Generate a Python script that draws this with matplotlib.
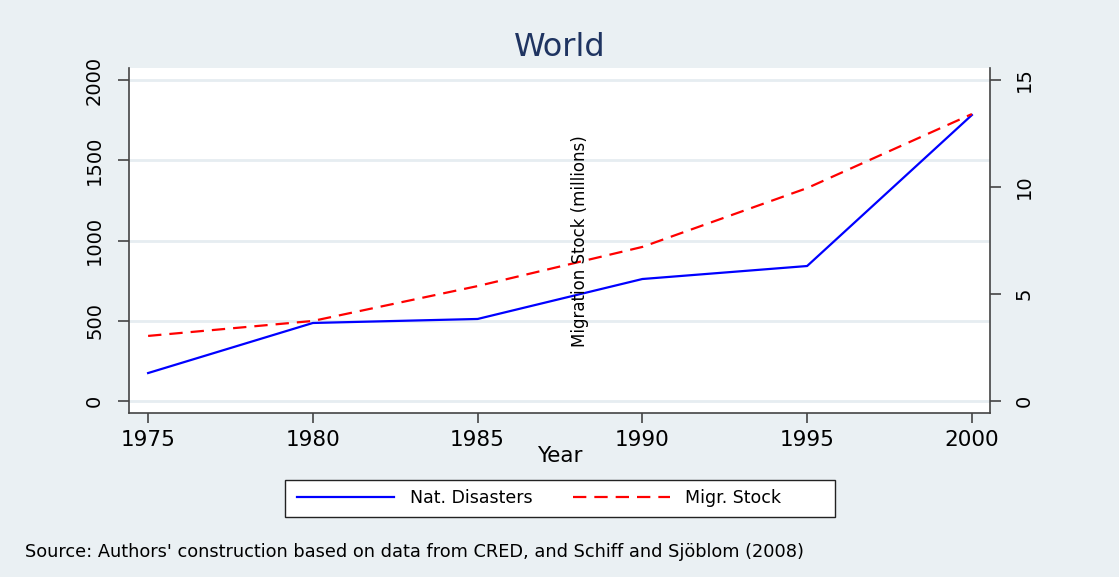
import matplotlib
matplotlib.use("Agg")
import matplotlib.pyplot as plt
from matplotlib.lines import Line2D
from matplotlib.patches import Rectangle

years = [1975, 1980, 1985, 1990, 1995, 2000]
nat_disasters = [174, 486, 511, 760, 841, 1782]
migr_stock = [3.04, 3.74, 5.37, 7.2, 9.95, 13.41]

left_ticks = [0, 500, 1000, 1500, 2000]
right_ticks = [0, 5, 10, 15]

BG = "#EAF0F3"
GRID = "#E6EDF1"
AX = "#444444"
DASH = (6, 3.6)

W, H = 1119, 577
fig = plt.figure(figsize=(W / 100, H / 100), dpi=100, facecolor=BG)

ax = fig.add_axes([129 / W, 1 - 413 / H, (990 - 129) / W, (413 - 68) / H])
ax.set_facecolor("white")
ax.plot(years, nat_disasters, color="#0000FF", lw=1.6)
ax.set_xlim(1974.42, 2000.55)
ax.set_ylim(-75, 2075)
ax.set_yticks(left_ticks)
ax.set_xticks(years)
ax.yaxis.grid(True, color=GRID, lw=2)
ax.set_axisbelow(True)
for s in ["top", "right"]:
    ax.spines[s].set_visible(False)
for s in ["left", "bottom"]:
    ax.spines[s].set_color(AX)
    ax.spines[s].set_linewidth(1.2)
ax.tick_params(axis="y", direction="out", length=8, width=1.2, color=AX,
               pad=10, labelsize=14, labelrotation=90)
ax.tick_params(axis="x", direction="out", length=7, width=1.2, color=AX,
               pad=5, labelsize=15.5)
for lab in ax.get_yticklabels():
    lab.set_va("center")
ax.set_xlabel("Year", fontsize=15.5, labelpad=-3)

ax2 = ax.twinx()
ax2.plot(years, migr_stock, color="#FF0000", lw=1.6, dashes=DASH)
ax2.set_ylim(-75 * 15 / 2000, 2075 * 15 / 2000)
ax2.set_yticks(right_ticks)
for s in ["top", "left", "bottom"]:
    ax2.spines[s].set_visible(False)
ax2.spines["right"].set_color(AX)
ax2.spines["right"].set_linewidth(1.2)
ax2.tick_params(axis="y", direction="out", length=8, width=1.2, color=AX,
                pad=10, labelsize=14, labelrotation=90)
for lab in ax2.get_yticklabels():
    lab.set_va("center")

fig.text(580 / W, 1 - 241 / H, "Migration Stock (millions)", rotation=90,
         ha="center", va="center", fontsize=12)

fig.text(560 / W, 1 - 47 / H, "World", ha="center", va="center",
         fontsize=23, color="#1F3461")

# legend box drawn separately so it can be wider than the entries, as in Stata
fig.patches.append(Rectangle((285 / W, 1 - 517 / H), 550 / W, 37 / H,
                             transform=fig.transFigure, facecolor="white",
                             edgecolor="#222222", lw=1.0, zorder=1))
handles = [Line2D([], [], color="#0000FF", lw=1.6),
           Line2D([], [], color="#FF0000", lw=1.6, dashes=DASH)]
leg = fig.legend(handles, ["Nat. Disasters", "Migr. Stock"], ncol=2,
                 loc="center left", bbox_to_anchor=(292 / W, 1 - 498 / H),
                 fontsize=12.5, frameon=False,
                 handlelength=5.6, handletextpad=0.9, columnspacing=2.3,
                 borderpad=0.3, borderaxespad=0)
leg.set_zorder(2)

fig.text(25 / W, 1 - 552 / H,
         "Source: Authors' construction based on data from CRED, and Schiff and Sjöblom (2008)",
         ha="left", va="center", fontsize=12.8)

fig.savefig("out.png", dpi=100, facecolor=BG)
